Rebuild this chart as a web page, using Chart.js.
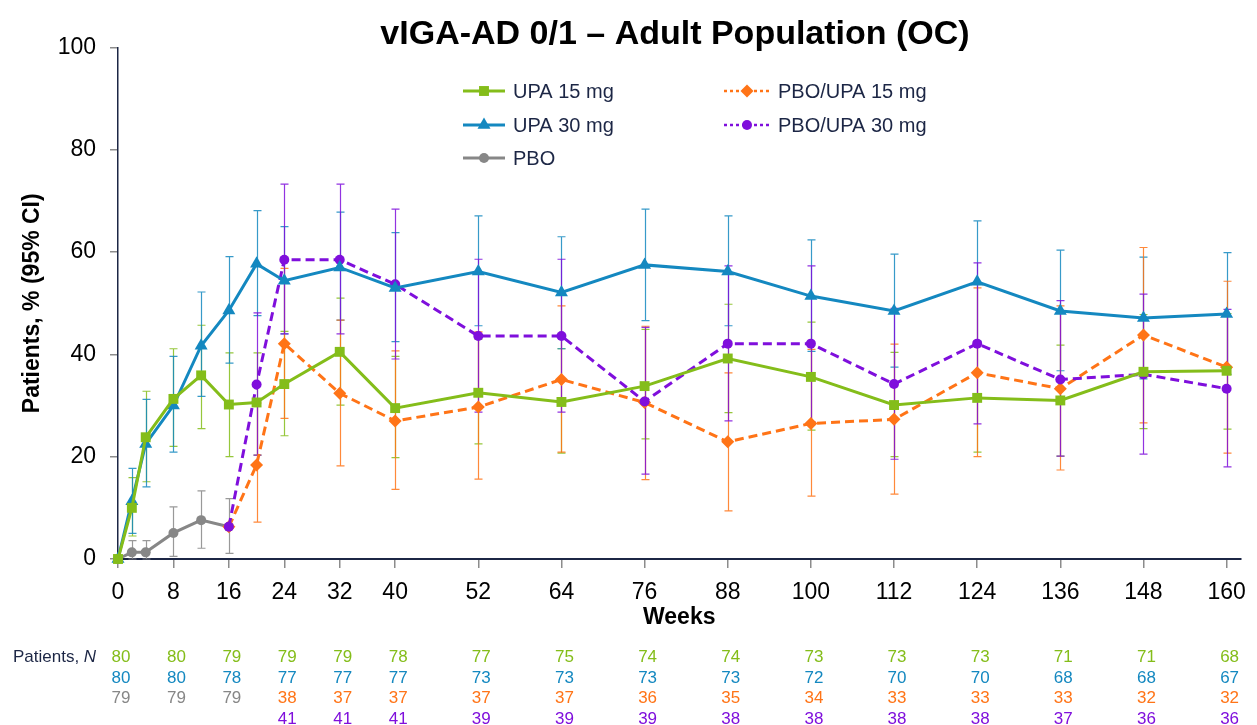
<!DOCTYPE html>
<html>
<head>
<meta charset="utf-8">
<script src="https://cdn.jsdelivr.net/npm/chart.js@4.4.0/dist/chart.umd.min.js"></script>
<style>
  html, body { margin: 0; padding: 0; background: #fff; }
  #wrap { width: 1257px; height: 725px; position: relative; }
</style>
</head>
<body>
<div id="wrap"><canvas id="chart"></canvas></div>
<script>
// weeks on the axis and in the N table
const tickWeeks = [0, 8, 16, 24, 32, 40, 52, 64, 76, 88, 100, 112, 124, 136, 148, 160];
const upaWeeks = [0, 2, 4, 8, 12, 16, 20, 24, 32, 40, 52, 64, 76, 88, 100, 112, 124, 136, 148, 160];
const pboWeeks = [0, 2, 4, 8, 12, 16];
const switchWeeks = [16, 20, 24, 32, 40, 52, 64, 76, 88, 100, 112, 124, 136, 148, 160];

// % responders with 95% CI
const upa15 = [0, 10.0, 23.8, 31.3, 35.9, 30.2, 30.6, 34.2, 40.5, 29.5, 32.5, 30.7, 33.8, 39.2, 35.6, 30.1, 31.5, 31.0, 36.6, 36.8];
const upa15Lo = [0, 4.5, 15.1, 22.0, 25.5, 20.0, 20.3, 24.1, 30.1, 19.8, 22.5, 20.7, 23.5, 28.6, 25.2, 20.0, 20.9, 20.1, 25.5, 25.4];
const upa15Hi = [0, 15.9, 32.8, 41.1, 45.7, 40.3, 40.3, 44.5, 51.0, 39.6, 43.0, 41.1, 44.9, 49.8, 46.3, 40.4, 42.3, 41.8, 47.8, 48.0];

const upa30 = [0, 11.3, 22.5, 30.0, 41.7, 48.6, 57.7, 54.4, 57.0, 53.0, 56.2, 52.1, 57.5, 56.2, 51.4, 48.5, 54.2, 48.5, 47.1, 47.9];
const upa30Lo = [0, 5.0, 14.1, 20.9, 31.8, 38.3, 47.6, 44.0, 46.7, 42.5, 45.6, 41.1, 46.6, 45.6, 40.6, 37.5, 42.6, 36.8, 35.2, 36.1];
const upa30Hi = [0, 17.7, 31.2, 39.6, 52.2, 59.1, 68.1, 65.0, 67.8, 63.8, 67.1, 63.0, 68.4, 67.1, 62.4, 59.6, 66.1, 60.4, 59.0, 59.9];

const pbo = [0, 1.3, 1.3, 5.1, 7.6, 6.3];
const pboLo = [0, 0, 0, 0.5, 2.1, 1.1];
const pboHi = [0, 3.6, 3.6, 10.2, 13.3, 11.8];

const pboUpa15 = [6.3, 18.4, 42.1, 32.4, 27.0, 29.7, 35.1, 30.6, 22.9, 26.5, 27.3, 36.4, 33.3, 43.8, 37.5];
const pboUpa15Lo = [null, 7.2, 27.5, 18.2, 13.6, 15.6, 20.9, 15.5, 9.4, 12.3, 12.7, 20.0, 17.4, 26.6, 20.7];
const pboUpa15Hi = [null, 30.5, 56.8, 46.7, 40.7, 44.4, 49.5, 45.5, 36.4, 41.0, 42.0, 53.0, 49.5, 60.9, 54.3];

const pboUpa30 = [6.3, 34.1, 58.5, 58.5, 53.7, 43.6, 43.6, 30.8, 42.1, 42.1, 34.2, 42.1, 35.1, 36.1, 33.3];
const pboUpa30Lo = [null, 20.3, 44.0, 44.0, 39.1, 28.7, 28.7, 16.6, 27.0, 26.8, 19.5, 26.4, 20.1, 20.5, 18.0];
const pboUpa30Hi = [null, 48.1, 73.3, 73.3, 68.4, 58.6, 58.6, 45.3, 57.3, 57.3, 49.0, 57.9, 50.5, 51.8, 48.8];

// patients, N
const nUpa15 = [80, 80, 79, 79, 79, 78, 77, 75, 74, 74, 73, 73, 73, 71, 71, 68];
const nUpa30 = [80, 80, 78, 77, 77, 77, 73, 73, 73, 73, 72, 70, 70, 68, 68, 67];
const nPboWeeks = [0, 8, 16];
const nPbo = [79, 79, 79];
const nSwitchWeeks = [24, 32, 40, 52, 64, 76, 88, 100, 112, 124, 136, 148, 160];
const nPboUpa15 = [38, 37, 37, 37, 37, 36, 35, 34, 33, 33, 33, 32, 32];
const nPboUpa30 = [41, 41, 41, 39, 39, 39, 38, 38, 38, 38, 37, 36, 36];

const GREEN = '#84bd1a', BLUE = '#1488c0', GREY = '#878787', ORANGE = '#ff7417', PURPLE = '#7f0fdc';
const FONT = "'Liberation Sans', Arial, sans-serif";
const NAVY = '#1c2645';

const pts = (weeks, vals) => weeks.map((w, i) => ({ x: w, y: vals[i] }));

// whiskers for the confidence intervals
const errorBars = {
  id: 'errorBars',
  beforeDatasetsDraw(chart) {
    const { ctx, scales: { x, y } } = chart;
    chart.data.datasets.forEach(ds => {
      if (!ds.lo) return;
      ctx.save();
      ctx.strokeStyle = ds.borderColor;
      ctx.globalAlpha = 0.85;
      ctx.lineWidth = 1.2;
      ds.data.forEach((p, j) => {
        const lo = ds.lo[j], hi = ds.hi[j];
        if (lo == null || hi == null || hi === lo) return;
        const px = Math.round(x.getPixelForValue(p.x)) + 0.5;
        const y1 = y.getPixelForValue(lo), y2 = y.getPixelForValue(hi);
        ctx.beginPath();
        ctx.moveTo(px, y1); ctx.lineTo(px, y2);
        ctx.moveTo(px - 4, y1); ctx.lineTo(px + 4, y1);
        ctx.moveTo(px - 4, y2); ctx.lineTo(px + 4, y2);
        ctx.stroke();
      });
      ctx.restore();
    });
  }
};

// title, two-column legend and the N table
const extras = {
  id: 'extras',
  afterDraw(chart) {
    const { ctx, scales: { x } } = chart;
    ctx.save();
    ctx.fillStyle = '#000';
    ctx.font = 'bold 34px ' + FONT;
    ctx.textAlign = 'center';
    ctx.textBaseline = 'middle';
    ctx.fillText('vIGA-AD 0/1 \u2013 Adult Population (OC)', 675, 35);

    const ds = chart.data.datasets;
    const legendItems = [
      [ds[0], 463, 505, 91], [ds[1], 463, 505, 125], [ds[2], 463, 505, 158],
      [ds[3], 724, 770, 91], [ds[4], 724, 770, 125]
    ];
    legendItems.forEach(([d, x1, x2, ly]) => {
      ctx.save();
      ctx.strokeStyle = d.borderColor;
      ctx.lineWidth = d.borderDash.length ? 2.5 : 3;
      ctx.setLineDash(d.borderDash.length ? [3, 3] : []);
      ctx.beginPath(); ctx.moveTo(x1, ly); ctx.lineTo(x2, ly); ctx.stroke();
      ctx.restore();
      ctx.fillStyle = d.pointBackgroundColor;
      Chart.helpers.drawPoint(ctx, { pointStyle: d.pointStyle, radius: d.pointRadius, borderWidth: 0 }, (x1 + x2) / 2, ly);
      ctx.fillStyle = NAVY;
      ctx.font = '20px ' + FONT;
      ctx.textAlign = 'left';
      ctx.fillText(d.label, x2 + 8, ly + 1);
    });

    ctx.font = '17px ' + FONT;
    ctx.fillStyle = NAVY;
    ctx.textAlign = 'left';
    ctx.fillText('Patients, ', 13, 657);
    const w = ctx.measureText('Patients, ').width;
    ctx.font = 'italic 17px ' + FONT;
    ctx.fillText('N', 13 + w, 657);

    const rows = [
      [tickWeeks, nUpa15, GREEN, 657], [tickWeeks, nUpa30, BLUE, 678],
      [nPboWeeks, nPbo, GREY, 698], [nSwitchWeeks, nPboUpa15, ORANGE, 698],
      [nSwitchWeeks, nPboUpa30, PURPLE, 719]
    ];
    ctx.font = '17px ' + FONT;
    ctx.textAlign = 'center';
    rows.forEach(([weeks, ns, col, ry]) => {
      ctx.fillStyle = col;
      weeks.forEach((wk, i) => ctx.fillText(String(ns[i]), x.getPixelForValue(wk) + 3, ry));
    });
    ctx.restore();
  }
};

const line = (label, data, color, style, radius, dashed, lo, hi, order) => ({
  label, data, lo, hi, order,
  borderColor: color,
  backgroundColor: color,
  pointBackgroundColor: color,
  pointBorderColor: color,
  pointBorderWidth: 0,
  pointStyle: style,
  pointRadius: radius,
  borderWidth: 3,
  borderDash: dashed ? [9, 5] : [],
  tension: 0,
  clip: false
});

new Chart(document.getElementById('chart'), {
  type: 'line',
  data: {
    datasets: [
      line('UPA 15 mg', pts(upaWeeks, upa15), GREEN, 'rect', 7, false, upa15Lo, upa15Hi, 1),
      line('UPA 30 mg', pts(upaWeeks, upa30), BLUE, 'triangle', 7.5, false, upa30Lo, upa30Hi, 2),
      line('PBO', pts(pboWeeks, pbo), GREY, 'circle', 5, false, pboLo, pboHi, 5),
      line('PBO/UPA 15 mg', pts(switchWeeks, pboUpa15), ORANGE, 'rectRot', 6.5, true, pboUpa15Lo, pboUpa15Hi, 4),
      line('PBO/UPA 30 mg', pts(switchWeeks, pboUpa30), PURPLE, 'circle', 5, true, pboUpa30Lo, pboUpa30Hi, 3)
    ]
  },
  options: {
    responsive: true,
    maintainAspectRatio: false,
    animation: false,
    layout: { padding: { left: 0, right: 16, top: 47.5, bottom: 94 } },
    plugins: { legend: { display: false }, tooltip: { enabled: false } },
    scales: {
      x: {
        type: 'linear',
        min: 0,
        max: 162,
        afterBuildTicks: s => { s.ticks = tickWeeks.map(v => ({ value: v })); },
        afterFit: s => { s.height = 72; },
        border: { display: true, color: NAVY, width: 2 },
        grid: { drawOnChartArea: false, drawTicks: true, tickLength: 9, color: '#8c8c8c', lineWidth: 1.5 },
        ticks: { color: '#000', font: { family: FONT, size: 23 }, padding: 11, maxRotation: 0, autoSkip: false },
        title: { display: true, text: 'Weeks', color: '#000', font: { family: FONT, size: 23, weight: 'bold' }, padding: { top: 0, bottom: 0 } }
      },
      y: {
        min: 0,
        max: 100,
        afterFit: s => { s.width = 118; },
        border: { display: true, color: NAVY, width: 1.5 },
        grid: { drawOnChartArea: false, drawTicks: true, tickLength: 8, color: '#8c8c8c', lineWidth: 1.5 },
        ticks: { stepSize: 20, color: '#000', font: { family: FONT, size: 23 }, padding: 14 },
        title: { display: true, text: 'Patients, % (95% CI)', color: '#000', font: { family: FONT, size: 23, weight: 'bold' }, padding: { top: 19, bottom: 0 } }
      }
    }
  },
  plugins: [errorBars, extras]
});
</script>
</body>
</html>
